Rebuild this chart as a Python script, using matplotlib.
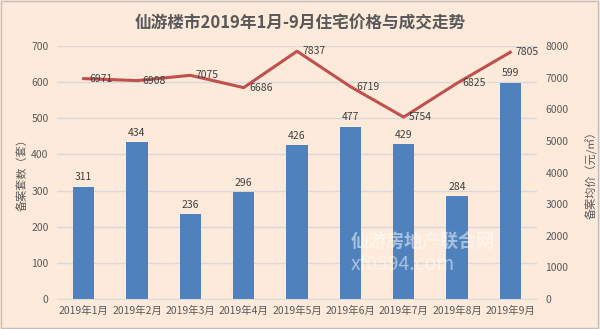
import matplotlib
matplotlib.use("Agg")
import matplotlib.pyplot as plt
from matplotlib.patches import Rectangle

plt.rcParams["font.family"] = ["Noto Sans CJK SC", "DejaVu Sans"]
plt.rcParams["axes.unicode_minus"] = False

MONTHS = ["2019年1月", "2019年2月", "2019年3月", "2019年4月", "2019年5月",
          "2019年6月", "2019年7月", "2019年8月", "2019年9月"]
UNITS = [311, 434, 236, 296, 426, 477, 429, 284, 599]
PRICE = [6971, 6908, 7075, 6686, 7837, 6719, 5754, 6825, 7805]

BG = "#FDEADA"
BAR_C = "#4F81BD"
LINE_C = "#C0504D"
TXT = "#595959"
GRID = "#D9D9D9"

fig = plt.figure(figsize=(6, 3.29), dpi=100, facecolor=BG)
fig.patches.append(Rectangle((0.002, 0.003), 0.995, 0.993, transform=fig.transFigure,
                             fill=False, edgecolor="#BFBFBF", linewidth=1.0))

ax = fig.add_axes([0.095, 0.091, 0.80, 0.769])
ax.set_facecolor(BG)
x = range(len(MONTHS))

bars = ax.bar(x, UNITS, width=0.4, color=BAR_C, zorder=2)
ax.bar_label(bars, padding=3, fontsize=7.5, color="#404040")
ax.set_ylim(0, 700)
ax.set_yticks(range(0, 701, 100))
ax.set_xlim(-0.5, len(MONTHS) - 0.5)
ax.set_xticks(list(x))
ax.set_xticklabels(MONTHS)
ax.yaxis.grid(True, color=GRID, linewidth=1.0, zorder=0)
ax.set_axisbelow(True)
for s in ["top", "right", "left"]:
    ax.spines[s].set_visible(False)
ax.spines["bottom"].set_color(GRID)
ax.tick_params(axis="y", length=0, labelsize=7.5, labelcolor=TXT, pad=6)
ax.tick_params(axis="x", length=0, labelsize=7.5, labelcolor=TXT, pad=5)
ax.set_ylabel("备案套数（套）", fontsize=8, color=TXT, labelpad=3)

ax2 = ax.twinx()
ax2.plot(list(x), PRICE, color=LINE_C, linewidth=2.2, zorder=3)
for i, v in zip(x, PRICE):
    ax2.annotate(f"{v}", (i, v), xytext=(4, 0), textcoords="offset points",
                 ha="left", va="center", fontsize=7.5, color="#404040")
ax2.set_ylim(0, 8000)
ax2.set_yticks(range(0, 8001, 1000))
for s in ["top", "right", "left", "bottom"]:
    ax2.spines[s].set_visible(False)
ax2.tick_params(axis="y", length=0, labelsize=7.5, labelcolor=TXT, pad=6)
ax2.set_ylabel("备案均价（元/㎡）", fontsize=8, color=TXT, labelpad=12)

# site watermark
fig.text(0.585, 0.265, "仙游房地产联合网", fontsize=13, fontweight="bold",
         color="white", alpha=0.5, ha="left", va="center")
fig.text(0.585, 0.195, "xf0594.com", fontsize=14, color="white", alpha=0.5,
         ha="left", va="center")

fig.suptitle("仙游楼市2019年1月-9月住宅价格与成交走势", y=0.955, fontsize=12,
             fontweight="bold", color=TXT)

fig.savefig("out.png", dpi=100, facecolor=BG)
